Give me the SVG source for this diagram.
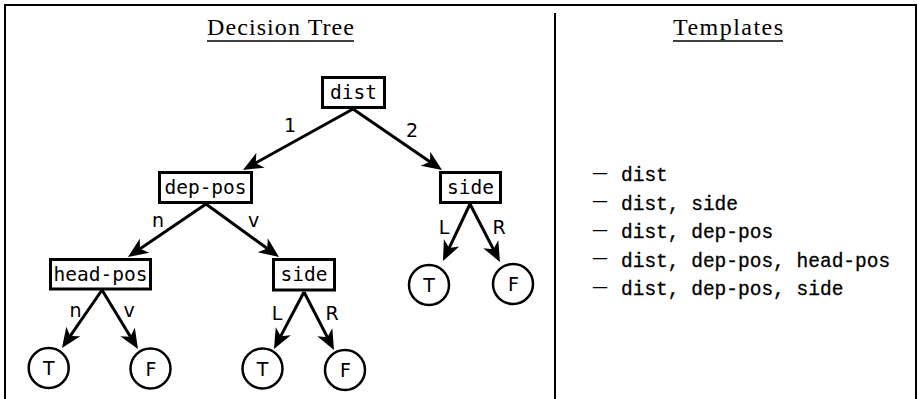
<svg xmlns="http://www.w3.org/2000/svg" width="919" height="399" viewBox="0 0 919 399">
<style>
.frame{stroke:#000;stroke-width:2;fill:none}
.title{font-family:"Liberation Serif",serif;font-size:24px;fill:#000;text-anchor:middle}
.uline{stroke:#000;stroke-width:1.6}
.box{fill:#fff;stroke:#000;stroke-width:3}
.ntext{font-family:"DejaVu Sans Mono",monospace;font-size:19.5px;fill:#000;text-anchor:middle}
.leaf{fill:#fff;stroke:#000;stroke-width:2.5}
.ltext{font-family:"DejaVu Sans",sans-serif;font-size:19px;fill:#000;text-anchor:middle}
.edge{stroke:#000;stroke-width:3;fill:none;marker-end:url(#ah)}
.elabel{font-family:"DejaVu Sans",sans-serif;font-size:19px;fill:#000;text-anchor:middle}
.dash{font-family:"Liberation Serif",serif;font-size:28px;fill:#000}
.tmpl{font-family:"Liberation Mono",monospace;font-size:19.5px;fill:#000;stroke:#000;stroke-width:0.3}
</style>
<defs>
<marker id="ah" markerUnits="userSpaceOnUse" orient="auto" refX="0" refY="0" markerWidth="30" markerHeight="30" overflow="visible">
<path d="M8,0 L-12,-8.5 L-6.5,0 L-12,8.5 Z" fill="#000"/>
</marker>
</defs>
<rect width="919" height="399" fill="#fff"/>
<g id="frame">
<path class="frame" d="M5,399 V5 H916 V399"/>
<line class="frame" x1="555" y1="13" x2="555" y2="399"/>
</g>
<g id="titles">
<text class="title" x="280.5" y="35" textLength="147" lengthAdjust="spacing">Decision Tree</text>
<line class="uline" x1="207" y1="41" x2="354" y2="41"/>
<text class="title" x="728" y="35" textLength="110" lengthAdjust="spacing">Templates</text>
<line class="uline" x1="673" y1="41" x2="783" y2="41"/>
</g>
<g id="connectors">
<line class="edge" x1="353" y1="109" x2="250.0" y2="166.1"/>
<line class="edge" x1="353" y1="109" x2="435.4" y2="165.5"/>
<line class="edge" x1="206" y1="204" x2="134.6" y2="252.5"/>
<line class="edge" x1="206" y1="204" x2="272.5" y2="252.3"/>
<line class="edge" x1="102" y1="290" x2="66.5" y2="341.4"/>
<line class="edge" x1="102" y1="290" x2="133.8" y2="342.2"/>
<line class="edge" x1="304" y1="292" x2="277.7" y2="341.9"/>
<line class="edge" x1="304" y1="292" x2="330.3" y2="342.9"/>
<line class="edge" x1="470" y1="204" x2="446.4" y2="253.8"/>
<line class="edge" x1="470" y1="204" x2="496.3" y2="254.9"/>
<text class="elabel" x="290" y="132">1</text>
<text class="elabel" x="412" y="137">2</text>
<text class="elabel" x="158" y="227">n</text>
<text class="elabel" x="253.5" y="227">v</text>
<text class="elabel" x="75.5" y="317">n</text>
<text class="elabel" x="129" y="317">v</text>
<text class="elabel" x="277" y="320">L</text>
<text class="elabel" x="332" y="320">R</text>
<text class="elabel" x="444" y="234">L</text>
<text class="elabel" x="499" y="234">R</text>
</g>
<g id="n-dist">
<rect class="box" x="322.5" y="77.5" width="62" height="30"/>
<text class="ntext" x="353.5" y="99">dist</text>
</g>
<g id="n-deppos">
<rect class="box" x="159.5" y="172.5" width="92" height="30"/>
<text class="ntext" x="205.5" y="194">dep-pos</text>
</g>
<g id="n-side-right">
<rect class="box" x="440.5" y="172.5" width="60" height="30"/>
<text class="ntext" x="470.5" y="194">side</text>
</g>
<g id="n-headpos">
<rect class="box" x="50.5" y="259.5" width="100" height="29.5"/>
<text class="ntext" x="100.5" y="281">head-pos</text>
</g>
<g id="n-side-mid">
<rect class="box" x="273.5" y="259.5" width="61" height="30.5"/>
<text class="ntext" x="304" y="281">side</text>
</g>
<g id="leaf-t1">
<circle class="leaf" cx="48.7" cy="368" r="20"/>
<text class="ltext" x="48.7" y="375">T</text>
</g>
<g id="leaf-f1">
<circle class="leaf" cx="150.5" cy="368.5" r="20"/>
<text class="ltext" x="151" y="375.5">F</text>
</g>
<g id="leaf-t2">
<circle class="leaf" cx="262.5" cy="368.5" r="20"/>
<text class="ltext" x="262.5" y="375.5">T</text>
</g>
<g id="leaf-f2">
<circle class="leaf" cx="345" cy="370" r="20"/>
<text class="ltext" x="345.5" y="377">F</text>
</g>
<g id="leaf-t3">
<circle class="leaf" cx="429" cy="285" r="20"/>
<text class="ltext" x="429" y="292">T</text>
</g>
<g id="leaf-f3">
<circle class="leaf" cx="513" cy="284" r="20"/>
<text class="ltext" x="513.5" y="291">F</text>
</g>
<g id="templates">
<text class="dash" x="593" y="179.5">–</text>
<text class="tmpl" x="621" y="181">dist</text>
<text class="dash" x="593" y="208">–</text>
<text class="tmpl" x="621" y="209.5">dist, side</text>
<text class="dash" x="593" y="236.5">–</text>
<text class="tmpl" x="621" y="238">dist, dep-pos</text>
<text class="dash" x="593" y="265">–</text>
<text class="tmpl" x="621" y="266.5">dist, dep-pos, head-pos</text>
<text class="dash" x="593" y="293.5">–</text>
<text class="tmpl" x="621" y="295">dist, dep-pos, side</text>
</g>
</svg>
